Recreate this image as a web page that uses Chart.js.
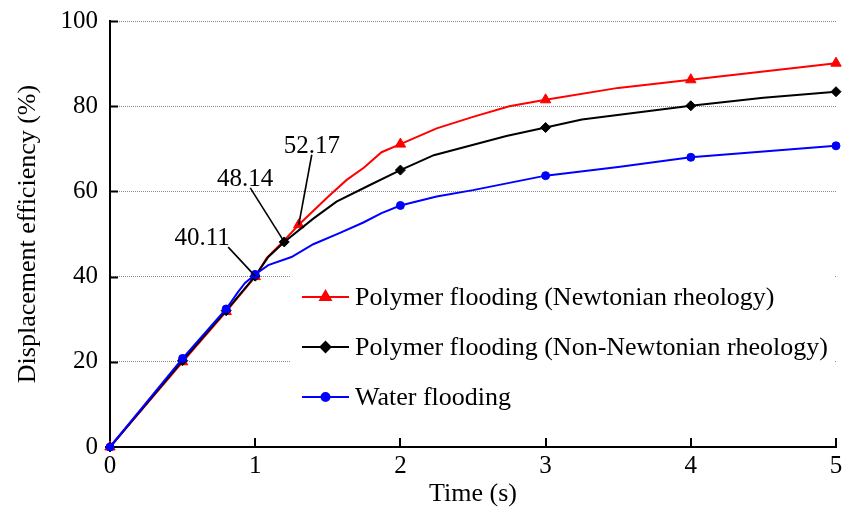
<!DOCTYPE html>
<html>
<head>
<meta charset="utf-8">
<script src="https://cdn.jsdelivr.net/npm/chart.js@4/dist/chart.umd.min.js"></script>
<style>
  html, body { margin: 0; padding: 0; background: #fff; }
  #wrap { width: 852px; height: 510px; }
</style>
</head>
<body>
<div id="wrap"><canvas id="chart" width="852" height="510"></canvas></div>
<script>
// Polymer flooding (Newtonian rheology)
const newtonTime  = [0, 0.5, 0.8, 1.0, 1.08, 1.2, 1.3, 1.5, 1.63, 1.75, 1.87, 2.0, 2.25, 2.5, 2.75, 3.0, 3.5, 4.0, 5.0];
const newtonValue = [0, 20, 31.8, 40, 44.4, 48.5, 52.17, 58.7, 62.7, 65.6, 69.2, 71.1, 74.8, 77.5, 80, 81.5, 84.3, 86.2, 90.1];
const newtonMarks = [0, 0.5, 0.8, 1.0, 1.3, 2, 3, 4, 5];

// Polymer flooding (Non-Newtonian rheology)
const nonNewtonTime  = [0, 0.5, 0.8, 1.0, 1.09, 1.2, 1.4, 1.56, 1.79, 2.0, 2.23, 2.73, 3.0, 3.25, 4.0, 4.5, 5.0];
const nonNewtonValue = [0, 20.3, 32, 40.11, 44.6, 48.14, 53.6, 57.6, 61.5, 65, 68.5, 73, 75, 76.9, 80.1, 82, 83.4];
const nonNewtonMarks = [0, 0.5, 0.8, 1.0, 1.2, 2, 3, 4, 5];

// Water flooding
const waterTime  = [0, 0.5, 0.8, 0.88, 0.93, 1.0, 1.09, 1.25, 1.4, 1.58, 1.745, 1.87, 2.0, 2.25, 2.5, 3.0, 3.5, 4.0, 5.0];
const waterValue = [0, 20.8, 32.4, 36.3, 38.5, 40.5, 42.7, 44.6, 47.6, 50.2, 52.7, 54.9, 56.7, 58.8, 60.3, 63.7, 65.7, 68, 70.7];
const waterMarks = [0, 0.5, 0.8, 1.0, 2, 3, 4, 5];

// callouts: time, value
const calloutTime  = [1.0, 1.2, 1.3];
const calloutValue = [40.11, 48.14, 52.17];

const xTicks = [0, 1, 2, 3, 4, 5];
const yTicks = [0, 20, 40, 60, 80, 100];

const FONT = "'Liberation Serif', 'Times New Roman', serif";
Chart.defaults.font.family = FONT;
Chart.defaults.color = '#000';

const toPoints = (ts, vs) => ts.map((t, i) => ({ x: t, y: vs[i] }));

function series(label, ts, vs, marks, color, style, radius, order) {
    return {
        label: label,
        data: toPoints(ts, vs),
        order: order, // lowest order is drawn on top
        clip: false,
        borderColor: color,
        backgroundColor: color,
        borderWidth: 2,
        tension: 0,
        pointStyle: style,
        pointRadius: c => marks.includes(c.raw.x) ? radius : 0,
        pointHoverRadius: 0,
        pointBackgroundColor: color,
        pointBorderColor: color,
        pointBorderWidth: 1,
        markerRadius: radius
    };
}

// callout offsets from the point, in pixels: [lineStartX, lineStartY, textX, textY]
const calloutOffsets = [[-27, -29, -53, -38], [-34, -54, -39, -62], [13, -70, 13, -78]];

const extras = {
    id: 'extras',
    beforeDatasetsDraw(chart) {
        // legend box, white background hides the grid lines behind it
        const ctx = chart.ctx;
        const area = chart.chartArea;
        const left = area.left + 180;
        const top = area.top + 241;
        ctx.save();
        ctx.fillStyle = '#fff';
        ctx.fillRect(left, top, area.right - left - 1, 165);
        const drawPoint = Chart.helpers && Chart.helpers.drawPoint;
        chart.data.datasets.forEach((ds, i) => {
            const y = area.top + 276 + i * 50;
            const x0 = area.left + 192;
            ctx.strokeStyle = ds.borderColor;
            ctx.lineWidth = 2;
            ctx.beginPath();
            ctx.moveTo(x0, y);
            ctx.lineTo(x0 + 47, y);
            ctx.stroke();
            if (drawPoint) {
                ctx.fillStyle = ds.borderColor;
                ctx.strokeStyle = ds.borderColor;
                drawPoint(ctx, { pointStyle: ds.pointStyle, radius: ds.markerRadius, rotation: 0, borderWidth: 1 }, x0 + 23.5, y);
            }
            ctx.fillStyle = '#000';
            ctx.font = '26px ' + FONT;
            ctx.textAlign = 'left';
            ctx.textBaseline = 'middle';
            ctx.fillText(ds.label, x0 + 53, y + 1);
        });
        ctx.restore();
    },
    afterDraw(chart) {
        const ctx = chart.ctx;
        const xs = chart.scales.x;
        const ys = chart.scales.y;
        const area = chart.chartArea;
        ctx.save();
        // inward tick marks
        ctx.strokeStyle = '#000';
        ctx.lineWidth = 2;
        ctx.beginPath();
        xTicks.forEach(t => {
            if (t === 0) return;
            const px = Math.round(xs.getPixelForValue(t));
            ctx.moveTo(px, area.bottom);
            ctx.lineTo(px, area.bottom - 9);
        });
        yTicks.forEach(v => {
            if (v === 0) return;
            const py = Math.round(ys.getPixelForValue(v)) + 0.5;
            ctx.moveTo(area.left, py);
            ctx.lineTo(area.left + 8, py);
        });
        ctx.stroke();
        // callouts
        ctx.lineWidth = 1.6;
        ctx.font = '25px ' + FONT;
        ctx.textAlign = 'center';
        ctx.textBaseline = 'middle';
        ctx.fillStyle = '#000';
        calloutTime.forEach((t, i) => {
            const px = xs.getPixelForValue(t);
            const py = ys.getPixelForValue(calloutValue[i]);
            const o = calloutOffsets[i];
            ctx.beginPath();
            ctx.moveTo(px + o[0], py + o[1]);
            ctx.lineTo(px, py);
            ctx.stroke();
            ctx.fillText(calloutValue[i].toFixed(2), px + o[2], py + o[3]);
        });
        ctx.restore();
    }
};

new Chart(document.getElementById('chart'), {
    type: 'line',
    data: {
        datasets: [
            series('Polymer flooding (Newtonian rheology)', newtonTime, newtonValue, newtonMarks, '#ff0000', 'triangle', 6, 2),
            series('Polymer flooding (Non-Newtonian rheology)', nonNewtonTime, nonNewtonValue, nonNewtonMarks, '#000000', 'rectRot', 5, 1),
            series('Water flooding', waterTime, waterValue, waterMarks, '#0000ff', 'circle', 4, 0)
        ]
    },
    options: {
        responsive: false,
        animation: false,
        events: [],
        layout: { padding: { left: 0, right: 16, top: 21, bottom: 0 } },
        plugins: {
            legend: { display: false },
            tooltip: { enabled: false }
        },
        scales: {
            x: {
                type: 'linear',
                min: 0,
                max: 5,
                afterFit: s => { s.height = 63; s.paddingLeft = 0; s.paddingRight = 0; },
                ticks: { stepSize: 1, padding: 4, font: { size: 25 }, color: '#000' },
                grid: { color: 'rgba(0,0,0,0)', drawTicks: false },
                border: { color: '#000', width: 2 },
                title: { display: true, text: 'Time (s)', font: { size: 26 }, color: '#000', padding: { top: 0, bottom: 0 } }
            },
            y: {
                min: 0,
                max: 100,
                afterFit: s => { s.width = 110; s.paddingTop = 0; s.paddingBottom = 0; },
                ticks: { stepSize: 20, padding: 12, font: { size: 25 }, color: '#000' },
                grid: {
                    color: c => c.tick && c.tick.value === 0 ? 'rgba(0,0,0,0)' : '#8a8a8a',
                    lineWidth: 1,
                    drawTicks: false
                },
                border: { color: '#000', width: 2, dash: [1, 1] },
                title: { display: true, text: 'Displacement efficiency (%)', font: { size: 26 }, color: '#000', padding: { top: 13, bottom: 0 } }
            }
        }
    },
    plugins: [extras]
});
</script>
</body>
</html>
